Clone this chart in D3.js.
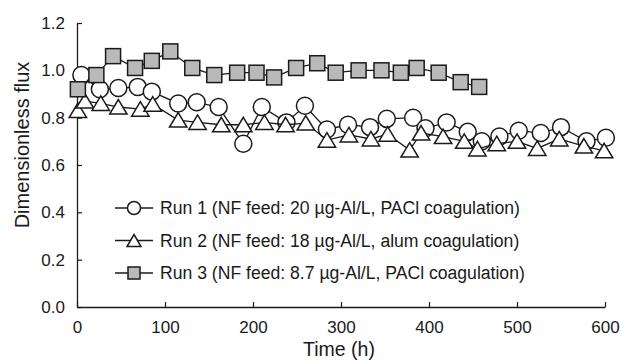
<!DOCTYPE html>
<html>
<head>
<meta charset="utf-8">
<script src="https://cdn.jsdelivr.net/npm/d3@7"></script>
<style>
    body { margin: 0; background: #fff; }
    svg { display: block; font-family: "Liberation Sans", Arial, sans-serif; }
</style>
</head>
<body>
<svg id="chart" width="621" height="363"></svg>
<script>
// Run 1: NF feed 20 ug-Al/L, PACl coagulation
const run1Time = [5, 26, 47, 69, 85, 115, 136, 161, 189, 210, 238, 259, 284, 308, 333, 352, 382, 396, 420, 444, 460, 480, 502, 527, 550, 579, 601];
const run1Flux = [0.98, 0.92, 0.925, 0.93, 0.91, 0.86, 0.865, 0.845, 0.69, 0.845, 0.78, 0.85, 0.75, 0.77, 0.76, 0.795, 0.80, 0.755, 0.78, 0.74, 0.70, 0.72, 0.745, 0.735, 0.76, 0.70, 0.715];

// Run 2: NF feed 18 ug-Al/L, alum coagulation
const run2Time = [1, 9, 27, 47, 72, 86, 115, 137, 164, 189, 213, 237, 260, 284, 309, 334, 353, 378, 391, 416, 440, 455, 477, 500, 523, 548, 576, 599];
const run2Flux = [0.83, 0.87, 0.86, 0.845, 0.836, 0.857, 0.79, 0.78, 0.77, 0.77, 0.78, 0.77, 0.777, 0.705, 0.727, 0.71, 0.73, 0.663, 0.735, 0.72, 0.70, 0.668, 0.69, 0.70, 0.67, 0.71, 0.68, 0.66];

// Run 3: NF feed 8.7 ug-Al/L, PACl coagulation
const run3Time = [1, 22, 41, 66, 85, 106, 131, 156, 182, 204, 224, 249, 273, 294, 320, 346, 368, 386, 411, 436, 457];
const run3Flux = [0.92, 0.98, 1.06, 1.01, 1.04, 1.08, 1.01, 0.98, 0.99, 0.99, 0.97, 1.01, 1.03, 0.99, 1.0, 1.0, 0.99, 1.01, 0.99, 0.95, 0.93];

const legendLabels = [
    "Run 1 (NF feed: 20 \u00b5g-Al/L, PACl coagulation)",
    "Run 2 (NF feed: 18 \u00b5g-Al/L, alum coagulation)",
    "Run 3 (NF feed: 8.7 \u00b5g-Al/L, PACl coagulation)"
];
const xTicks = [0, 100, 200, 300, 400, 500, 600];
const yTicks = [0.0, 0.2, 0.4, 0.6, 0.8, 1.0, 1.2];

const svg = d3.select("#chart");
const margin = { left: 77, right: 16, top: 23, bottom: 56 };
const width = 621 - margin.left - margin.right;
const height = 363 - margin.top - margin.bottom;
const ink = "#1a1a1a";

const x = d3.scaleLinear().domain([0, 600]).range([0, width]);
const y = d3.scaleLinear().domain([0, 1.2]).range([height, 0]);

const g = svg.append("g").attr("transform", `translate(${margin.left},${margin.top})`);

// axes, ticks pointing inward
const xAxis = g.append("g")
    .attr("transform", `translate(0,${height})`)
    .call(d3.axisBottom(x).tickValues(xTicks).tickSizeInner(-5).tickSizeOuter(0).tickPadding(14));
const yAxis = g.append("g")
    .call(d3.axisLeft(y).tickValues(yTicks).tickFormat(d3.format(".1f")).tickSizeInner(-5).tickSizeOuter(0).tickPadding(12));

[xAxis, yAxis].forEach(ax => {
    ax.select(".domain").attr("stroke", ink).attr("stroke-width", 1.3);
    ax.selectAll(".tick line").attr("stroke", ink).attr("stroke-width", 1.2);
    ax.selectAll(".tick text")
        .attr("fill", ink)
        .style("font-size", "17px")
        .style("font-family", "'Liberation Sans', Arial, sans-serif");
});

svg.append("text")
    .attr("x", margin.left + x(300) - 2)
    .attr("y", 356)
    .attr("text-anchor", "middle")
    .attr("fill", ink)
    .style("font-size", "19.5px")
    .text("Time (h)");

svg.append("text")
    .attr("transform", "translate(29,145) rotate(-90)")
    .attr("text-anchor", "middle")
    .attr("fill", ink)
    .style("font-size", "20px")
    .text("Dimensionless flux");

// marker drawing helpers
function drawMarker(sel, kind) {
    if (kind === "circle") {
        sel.append("circle").attr("r", 8.5).attr("fill", "#fff");
    } else if (kind === "triangle") {
        sel.append("path").attr("d", "M0,-7.5L8.7,7L-8.7,7Z").attr("fill", "#fff");
    } else {
        sel.append("rect").attr("x", -7.5).attr("y", -7.5).attr("width", 15).attr("height", 15).attr("fill", "#b9b9b9");
    }
    sel.selectAll("*").attr("stroke", ink).attr("stroke-width", 1.5);
}

const series = [
    { time: run1Time, flux: run1Flux, kind: "circle" },
    { time: run2Time, flux: run2Flux, kind: "triangle" },
    { time: run3Time, flux: run3Flux, kind: "square" }
];

const line = d3.line().x(d => x(d[0])).y(d => y(d[1]));

series.forEach(s => {
    const pts = s.time.map((t, i) => [t, s.flux[i]]);
    g.append("path")
        .datum(pts)
        .attr("d", line)
        .attr("fill", "none")
        .attr("stroke", ink)
        .attr("stroke-width", 1.3);
    g.selectAll(null)
        .data(pts)
        .enter()
        .append("g")
        .attr("transform", d => `translate(${x(d[0])},${y(d[1])})`)
        .each(function() { drawMarker(d3.select(this), s.kind); });
});

// legend
const legend = svg.append("g");
legendLabels.forEach((label, i) => {
    const ly = 208 + i * 32.5;
    legend.append("line")
        .attr("x1", 115).attr("x2", 153)
        .attr("y1", ly).attr("y2", ly)
        .attr("stroke", ink).attr("stroke-width", 1.3);
    const m = legend.append("g").attr("transform", `translate(134,${ly})`);
    drawMarker(m, series[i].kind);
    if (series[i].kind === "circle") m.select("circle").attr("r", 6.5);
    if (series[i].kind === "triangle") m.select("path").attr("d", "M0,-6L7,6L-7,6Z");
    if (series[i].kind === "square") m.select("rect").attr("x", -6).attr("y", -6).attr("width", 12).attr("height", 12);
    legend.append("text")
        .attr("x", 160)
        .attr("y", ly)
        .attr("dy", "0.35em")
        .attr("fill", ink)
        .style("font-size", "17.6px")
        .text(label);
});
</script>
</body>
</html>
